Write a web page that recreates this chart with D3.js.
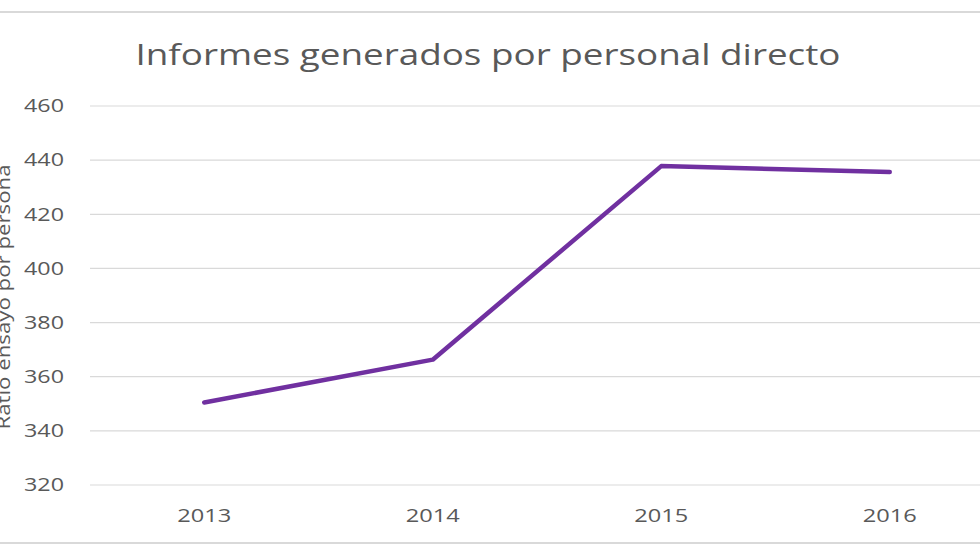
<!DOCTYPE html>
<html><head><meta charset="utf-8">
<script src="https://cdn.jsdelivr.net/npm/d3@7"></script>
<style>html,body{margin:0;padding:0;background:#fff;overflow:hidden}</style>
</head><body><svg id="c" width="980" height="560"></svg>
<script>
const categories = ["2013", "2014", "2015", "2016"];
const values = [350.5, 366.3, 437.8, 435.6];
const yTicks = [320, 340, 360, 380, 400, 420, 440, 460];
const title = "Informes generados por personal directo";
const yLabel = "Ratio ensayo por persona";

const svg = d3.select("#c");
const font = "'Open Sans', 'Liberation Sans', sans-serif";
svg.append("rect").attr("width",980).attr("height",560).attr("fill","#fff");
// chart border lines
[12, 543].forEach(yy => svg.append("line").attr("x1",0).attr("x2",980).attr("y1",yy).attr("y2",yy)
  .attr("stroke","#d9d9d9").attr("stroke-width",2));

const x = d3.scaleBand().domain(categories).range([90, 1004]);
const y = d3.scaleLinear().domain([320, 460]).range([485, 106]);

// gridlines
svg.append("g").selectAll("line").data(yTicks).join("line")
  .attr("x1", 90).attr("x2", 980).attr("y1", d => y(d)).attr("y2", d => y(d))
  .attr("stroke", "#d9d9d9").attr("stroke-width", 1.2);

// y axis labels
const ya = svg.append("g").attr("transform","translate(64,0)")
  .call(d3.axisLeft(y).tickValues(yTicks).tickSize(0).tickPadding(0));
ya.select(".domain").remove();
ya.selectAll("text").attr("font-family", font).attr("font-size", 18).attr("fill", "#595959")
  .attr("textLength", 40).attr("lengthAdjust", "spacingAndGlyphs");

// x axis labels
const xa = svg.append("g").attr("transform","translate(0,503)")
  .call(d3.axisBottom(x).tickSize(0).tickPadding(6));
xa.select(".domain").remove();
xa.selectAll("text").attr("font-family", font).attr("font-size", 18).attr("fill", "#595959")
  .attr("textLength", 54).attr("lengthAdjust", "spacingAndGlyphs");

// line
const line = d3.line().x((d,i) => x(categories[i]) + x.bandwidth()/2).y(d => y(d));
svg.append("path").datum(values).attr("d", line).attr("fill","none")
  .attr("stroke","#7030a0").attr("stroke-width",4.5).attr("stroke-linejoin","round").attr("stroke-linecap","round");

// title
svg.append("text").attr("x", 488).attr("y", 65).attr("text-anchor","middle")
  .attr("font-family", font).attr("font-size", 30).attr("fill","#595959")
  .attr("textLength", 705).attr("lengthAdjust", "spacingAndGlyphs").text(title);

// y label
svg.append("text").attr("transform","translate(10,297) rotate(-90)").attr("text-anchor","middle")
  .attr("font-family", font).attr("font-size", 19).attr("fill","#595959")
  .attr("textLength", 265).attr("lengthAdjust", "spacingAndGlyphs").text(yLabel);
</script></body></html>
